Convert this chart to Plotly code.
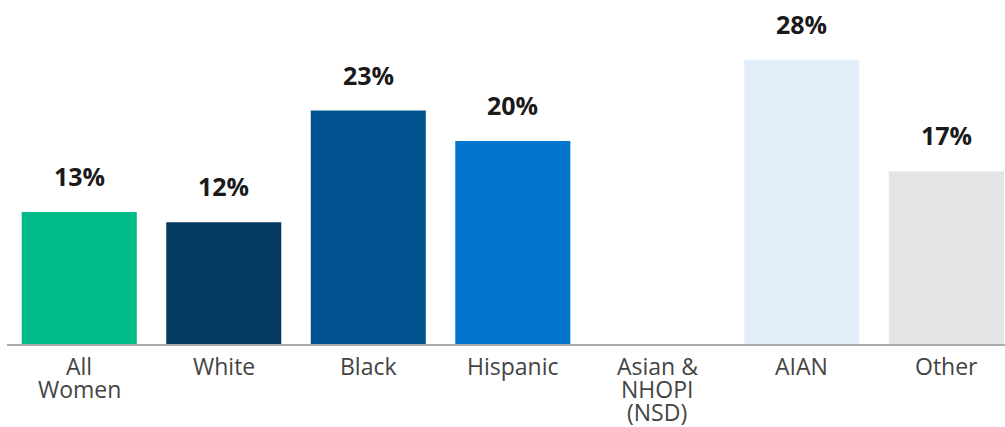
import plotly.graph_objects as go

# Share of women, by race/ethnicity
categories = ["All Women", "White", "Black", "Hispanic", "Asian & NHOPI (NSD)", "AIAN", "Other"]
label_lines = [["All", "Women"], ["White"], ["Black"], ["Hispanic"], ["Asian &", "NHOPI", "(NSD)"], ["AIAN"], ["Other"]]
values = [13, 12, 23, 20, None, 28, 17]
bar_colors = ["#00BA87", "#053A62", "#01548F", "#0276CC", "#FFFFFF", "#E2EFFA", "#E4E4E4"]

fig = go.Figure(
    go.Bar(
        x=categories,
        y=values,
        marker=dict(color=bar_colors, line=dict(width=0)),
        hoverinfo="skip",
    )
)

# value labels above the bars
for cat, val in zip(categories, values):
    if val is None:
        continue
    fig.add_annotation(
        x=cat, y=val, text=f"<b>{val}%</b>",
        showarrow=False, yanchor="bottom", yshift=17,
        font=dict(family="Open Sans", size=25, color="#1a1a1a"),
    )

# category labels, one annotation per line for tight line spacing
for cat, lines in zip(categories, label_lines):
    for i, line in enumerate(lines):
        fig.add_annotation(
            x=cat, y=0, text=line, showarrow=False,
            yanchor="top", yshift=-5 - 23 * i, borderpad=0,
            font=dict(family="Open Sans", size=23, color="#444444"),
        )

fig.update_layout(
    width=1005, height=427,
    margin=dict(l=7, r=0, t=0, b=83),
    plot_bgcolor="white", paper_bgcolor="white",
    bargap=0.204,
    showlegend=False,
    xaxis=dict(
        type="category",
        range=[-0.5, 6.406],
        showline=True, linecolor="#ABABAB", linewidth=2,
        showgrid=False, ticks="", showticklabels=False,
    ),
    yaxis=dict(range=[0, 33.9], visible=False, showgrid=False, zeroline=False),
)

fig.write_html("out.html")
